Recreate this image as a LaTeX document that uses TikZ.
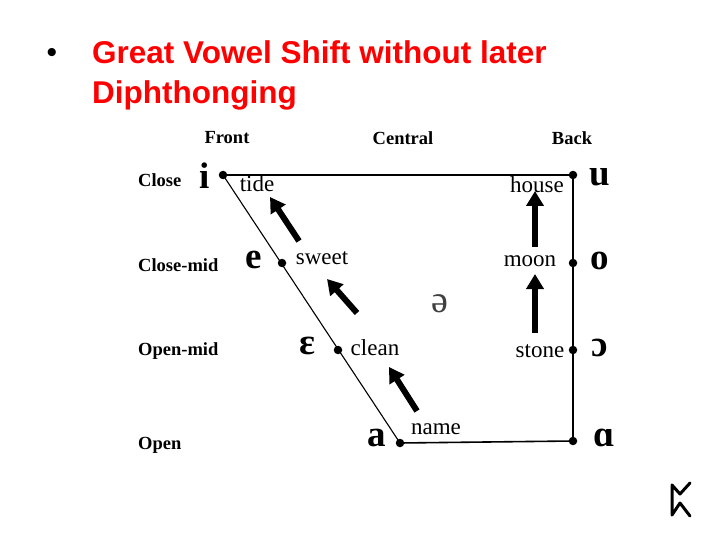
\documentclass[tikz,border=0pt]{standalone}
\usepackage{fontspec}
\setmainfont{Liberation Serif}
\newfontfamily\arialfont{Liberation Sans}
\usetikzlibrary{arrows.meta}
\tikzset{
  vdot/.style={circle,fill=black,inner sep=0pt,minimum size=8.5pt},
  sym/.style={font=\fontsize{37}{37}\selectfont\bfseries,inner sep=0pt},
  symr/.style={font=\fontsize{38}{38}\selectfont,inner sep=0pt},
  word/.style={font=\fontsize{23}{23}\selectfont,inner sep=0pt},
  axis/.style={font=\fontsize{18.5}{18.5}\selectfont\bfseries,inner sep=0pt},
  frame/.style={line width=1.6pt},
  shiftarrow/.style={line width=6pt,-{Triangle[width=17pt,length=15pt]}},
  rune/.style={line width=3pt,line cap=round,line join=round}
}
\begin{document}
\begin{tikzpicture}[x=1pt,y=-1pt]
\useasboundingbox (0,0) rectangle (720,540);
% title
\node[font=\fontsize{30}{30}\selectfont\arialfont,anchor=base] (bul) at (52,63) {•};
\node[font=\fontsize{31.5}{40}\selectfont\arialfont\bfseries,text=red,align=left,anchor=north west,inner sep=0pt] (title) at (92,40) {Great Vowel Shift without later\\Diphthonging};
% column and row labels
\node[axis] (front) at (227,138) {Front};
\node[axis] (central) at (403,138) {Central};
\node[axis] (back) at (572,138) {Back};
\node[axis,anchor=west] (close) at (138,180) {Close};
\node[axis,anchor=west] (closemid) at (138,265) {Close-mid};
\node[axis,anchor=west] (openmid) at (138,351) {Open-mid};
\node[axis,anchor=west] (open) at (138,445) {Open};
% vowel points
\node[vdot] (i) at (223,175) {};
\node[vdot] (u) at (573,175) {};
\node[vdot] (e) at (282,263) {};
\node[vdot] (o) at (573,263) {};
\node[vdot] (eps) at (338,350) {};
\node[vdot] (oo) at (573,350) {};
\node[vdot] (a) at (400,443) {};
\node[vdot] (aa) at (573,441) {};
% frame
\draw[frame] (i.center) -- (u.center) -- (aa.center) -- (a.center);
\draw[line width=1.1pt] (i.center) -- (a.center);
% symbols
\node[sym] (si) at (205,176) {i};
\node[sym] (su) at (600,177) {u};
\node[sym] (se) at (254,260) {e};
\node[sym] (so) at (600,261) {o};
\node[sym] (seps) at (307,346) {ɛ};
\node[sym] (soo) at (600,348) {ɔ};
\node[sym] (sa) at (377,438) {a};
\node[sym] (saa) at (604,438) {ɑ};
\node[symr,text=black!75] (schwa) at (440,304) {ə};
% words
\node[word] (tide) at (257,184) {tide};
\node[word] (house) at (537,185) {house};
\node[word] (sweet) at (322,258) {sweet};
\node[word] (moon) at (530,261) {moon};
\node[word] (clean) at (375,348) {clean};
\node[word] (stone) at (540,351) {stone};
\node[word] (name) at (436,429) {name};
% shift arrows
\coordinate (t1) at (299,241); \coordinate (h1) at (270,197);
\coordinate (t2) at (357,313); \coordinate (h2) at (327,279);
\coordinate (t3) at (417,411); \coordinate (h3) at (389,367);
\coordinate (t4) at (535,247); \coordinate (h4) at (535,191);
\coordinate (t5) at (535,333); \coordinate (h5) at (535,274);
\draw[shiftarrow] (t1) -- (h1);
\draw[shiftarrow] (t2) -- (h2);
\draw[shiftarrow] (t3) -- (h3);
\draw[shiftarrow] (t4) -- (h4);
\draw[shiftarrow] (t5) -- (h5);
% rune
\coordinate (r1) at (690,483); \coordinate (r2) at (680,494); \coordinate (r3) at (672,485);
\coordinate (r4) at (672,515); \coordinate (r5) at (680,503); \coordinate (r6) at (690,516);
\draw[rune] (r1) -- (r2) -- (r3) -- (r4) -- (r5) -- (r6);
\end{tikzpicture}
\end{document}
